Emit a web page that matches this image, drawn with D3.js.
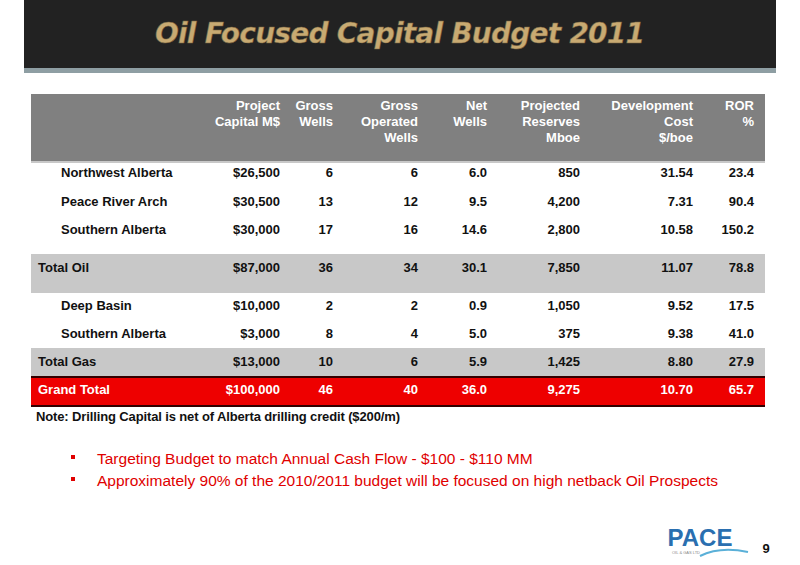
<!DOCTYPE html><html><head><meta charset="utf-8">
<script src="https://d3js.org/d3.v7.min.js"></script>
<style>body{margin:0;background:#fff}svg{font-family:"Liberation Sans",Arial,sans-serif}</style></head><body>
<svg id="c" width="800" height="565"></svg>
<script>
const title = "Oil Focused Capital Budget 2011";
const headers = [["Project","Capital M$"],["Gross","Wells"],["Gross","Operated","Wells"],["Net","Wells"],["Projected","Reserves","Mboe"],["Development","Cost","$/boe"],["ROR","%"]];
const rowNames = ["Northwest Alberta","Peace River Arch","Southern Alberta","Total Oil","Deep Basin","Southern Alberta","Total Gas","Grand Total"];
const rowTypes = ["item","item","item","total","item","item","total","grand"];
const capital = ["$26,500","$30,500","$30,000","$87,000","$10,000","$3,000","$13,000","$100,000"];
const grossWells = ["6","13","17","36","2","8","10","46"];
const grossOperated = ["6","12","16","34","2","4","6","40"];
const netWells = ["6.0","9.5","14.6","30.1","0.9","5.0","5.9","36.0"];
const reserves = ["850","4,200","2,800","7,850","1,050","375","1,425","9,275"];
const devCost = ["31.54","7.31","10.58","11.07","9.52","9.38","8.80","10.70"];
const ror = ["23.4","90.4","150.2","78.8","17.5","41.0","27.9","65.7"];
const note = "Note: Drilling Capital is net of Alberta drilling credit ($200/m)";
const bullets = ["Targeting Budget to match Annual Cash Flow - $100 - $110 MM","Approximately 90% of the 2010/2011 budget will be focused on high netback Oil Prospects"];

const svg = d3.select("#c");
svg.append("rect").attr("x",24).attr("y",0).attr("width",752).attr("height",68).attr("fill","#222");
svg.append("rect").attr("x",24).attr("y",68).attr("width",752).attr("height",5).attr("fill","#8e9ea3");
svg.append("text").attr("x",400).attr("y",43).attr("text-anchor","middle").attr("font-family","'DejaVu Sans'").attr("font-weight","bold").attr("font-style","italic").attr("font-size",28).attr("fill","#c8aa72").attr("stroke","#7a6440").attr("stroke-width",0.5).attr("textLength",490).text(title);

const cols = [capital,grossWells,grossOperated,netWells,reserves,devCost,ror];
const colX = [280,333,418,487,580,693,754];
const tx=31, tw=734, fs=13;
svg.append("rect").attr("x",tx).attr("y",94).attr("width",tw).attr("height",67).attr("fill","#808080");
svg.append("rect").attr("x",tx).attr("y",161).attr("width",tw).attr("height",2).attr("fill","#c8c8c8");
headers.forEach((h,i)=>h.forEach((t,j)=>svg.append("text").attr("x",colX[i]).attr("y",110+j*16).attr("text-anchor","end").attr("font-size",fs).attr("font-weight","bold").attr("fill","#fff").text(t)));

const rowY = [172,201,229,267,305,333,361,389];
svg.append("rect").attr("x",tx).attr("y",254).attr("width",tw).attr("height",39).attr("fill","#c8c8c8");
svg.append("rect").attr("x",tx).attr("y",348).attr("width",tw).attr("height",29).attr("fill","#c8c8c8");
svg.append("rect").attr("x",tx).attr("y",376).attr("width",tw).attr("height",31).attr("fill","#ee0000");
svg.append("rect").attr("x",tx).attr("y",376).attr("width",tw).attr("height",2).attr("fill","#300");
svg.append("rect").attr("x",tx).attr("y",405).attr("width",tw).attr("height",2).attr("fill","#300");

rowNames.forEach((n,r)=>{
  const t=rowTypes[r], fill=t==="grand"?"#fff":"#111", y=rowY[r]+5;
  svg.append("text").attr("x",t==="item"?61:38).attr("y",y).attr("font-size",fs).attr("font-weight","bold").attr("fill",fill).text(n);
  cols.forEach((c,i)=>svg.append("text").attr("x",colX[i]).attr("y",y).attr("text-anchor","end").attr("font-size",fs).attr("font-weight","bold").attr("fill",fill).text(c[r]));
});
svg.append("text").attr("x",36).attr("y",421).attr("font-size",13).attr("font-weight","bold").attr("fill","#111").attr("textLength",364).text(note);
bullets.forEach((b,i)=>{
  const y=464+i*22;
  svg.append("rect").attr("x",71).attr("y",y-9).attr("width",4).attr("height",4).attr("fill","#e00000");
  svg.append("text").attr("x",97).attr("y",y).attr("font-size",15.5).attr("fill","#e00000").text(b);
});
svg.append("text").attr("x",700).attr("y",546).attr("text-anchor","middle").attr("font-size",24).attr("font-weight","bold").attr("fill","#2a6fb0").text("PACE");
svg.append("text").attr("x",672).attr("y",554).attr("font-size",4).attr("fill","#888").text("OIL & GAS LTD");
svg.append("path").attr("d","M700 556 Q720 546 748 552").attr("fill","none").attr("stroke","#5ab0d8").attr("stroke-width",2);
svg.append("text").attr("x",766).attr("y",553).attr("text-anchor","middle").attr("font-size",13).attr("font-weight","bold").attr("fill","#111").text("9");
</script></body></html>
